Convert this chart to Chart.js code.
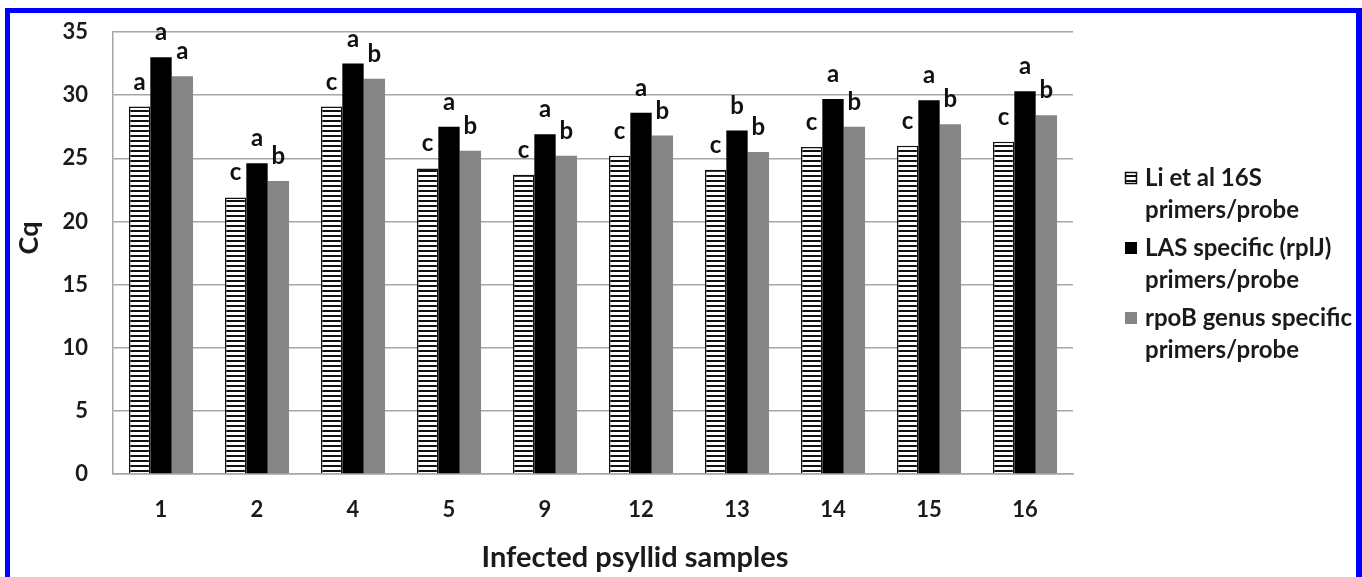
<!DOCTYPE html>
<html><head><meta charset="utf-8">
<script src="https://cdn.jsdelivr.net/npm/chart.js@4.4.0/dist/chart.umd.min.js"></script>
<style>
html,body{margin:0;padding:0;background:#fff;overflow:hidden}
#wrap{position:relative;width:1362px;height:577px}
#frame{position:absolute;left:5px;top:8px;width:1357px;height:600px;box-sizing:border-box;border:solid #0000ff;border-width:5px 6px 0 5px;pointer-events:none}
</style></head><body>
<div id="wrap"><canvas id="graph" width="1362" height="577"></canvas><div id="frame"></div></div>
<script>
const samples = ['1', '2', '4', '5', '9', '12', '13', '14', '15', '16'];
const liValues = [29.1, 21.9, 29.1, 24.2, 23.7, 25.2, 24.1, 25.9, 26.0, 26.3];
const lasValues = [33.0, 24.6, 32.5, 27.5, 26.9, 28.6, 27.2, 29.7, 29.6, 30.3];
const rpobValues = [31.5, 23.2, 31.3, 25.6, 25.2, 26.8, 25.5, 27.5, 27.7, 28.4];
const liLetters = ['a', 'c', 'c', 'c', 'c', 'c', 'c', 'c', 'c', 'c'];
const lasLetters = ['a', 'a', 'a', 'a', 'a', 'a', 'b', 'a', 'a', 'a'];
const rpobLetters = ['a', 'b', 'b', 'b', 'b', 'b', 'b', 'b', 'b', 'b'];
const seriesNames = [['Li et al 16S', 'primers/probe'], ['LAS specific (rplJ)', 'primers/probe'], ['rpoB genus specific', 'primers/probe']];
const letters = [liLetters, lasLetters, rpobLetters];

const FONT = 'Lato, "Open Sans", sans-serif';

// horizontal stripe fill for the Li et al bars
function stripes() {
    const c = document.createElement('canvas');
    c.width = 4; c.height = 5;
    const x = c.getContext('2d');
    x.fillStyle = '#ffffff';
    x.fillRect(0, 0, 4, 5);
    x.fillStyle = '#111111';
    x.fillRect(0, 0, 4, 2);
    return x.createPattern(c, 'repeat');
}

const graph = document.getElementById('graph').getContext('2d');
const hatch = stripes();

// letters above each bar
const letterPlugin = {
    id: 'letters',
    afterDatasetsDraw(chart) {
        const ctx = chart.ctx;
        ctx.save();
        ctx.font = 'bold 24px ' + FONT;
        ctx.fillStyle = '#111';
        ctx.textAlign = 'center';
        ctx.textBaseline = 'alphabetic';
        chart.data.datasets.forEach((ds, i) => {
            chart.getDatasetMeta(i).data.forEach((bar, j) => {
                ctx.fillText(letters[i][j], bar.x, bar.y - 17);
            });
        });
        ctx.restore();
    }
};

// legend on the right + axis titles
const sidePlugin = {
    id: 'side',
    afterDraw(chart) {
        const ctx = chart.ctx;
        ctx.save();
        ctx.font = 'bold 24px ' + FONT;
        ctx.textBaseline = 'middle';
        ctx.textAlign = 'left';
        chart.data.datasets.forEach((ds, i) => {
            const y = 178 + i * 70;
            ctx.fillStyle = ds.backgroundColor;
            ctx.fillRect(1125, y - 6, 12, 12);
            if (ds.borderWidth) {
                ctx.strokeStyle = '#111';
                ctx.lineWidth = 1.5;
                ctx.strokeRect(1125.5, y - 5.5, 11, 11);
            }
            ctx.fillStyle = '#1a1a1a';
            ds.label.forEach((line, k) => {
                ctx.fillText(line, 1145, y + k * 32);
            });
        });

        ctx.font = 'bold 29px ' + FONT;
        ctx.textAlign = 'center';
        ctx.fillText('Infected psyllid samples', 635, 558);

        ctx.font = 'bold 27px ' + FONT;
        ctx.translate(29, 238);
        ctx.rotate(-Math.PI / 2);
        ctx.fillText('Cq', 0, 0);
        ctx.restore();
    }
};

const barChart = new Chart(graph, {
    type: 'bar',
    data: {
        labels: samples,
        datasets: [{
            label: seriesNames[0],
            data: liValues,
            backgroundColor: hatch,
            borderColor: '#111',
            borderWidth: 1.5,
        }, {
            label: seriesNames[1],
            data: lasValues,
            backgroundColor: '#000000',
            borderWidth: 0,
        }, {
            label: seriesNames[2],
            data: rpobValues,
            backgroundColor: '#858585',
            borderWidth: 0,
        }],
    },
    options: {
        responsive: false,
        animation: false,
        events: [],
        categoryPercentage: 0.667,
        barPercentage: 1.0,
        layout: {
            autoPadding: false,
            padding: { left: 0, top: 32, right: 289, bottom: 0 }
        },
        plugins: {
            legend: { display: false },
            tooltip: { enabled: false },
        },
        scales: {
            x: {
                grid: { display: false, drawTicks: false },
                border: { display: true, color: '#a6a6a6', width: 1.5 },
                ticks: { color: '#1a1a1a', padding: 23, font: { family: FONT, size: 22, weight: 'bold' } },
                afterFit(scale) { scale.height = 577 - 474; }
            },
            y: {
                min: 0,
                max: 35,
                ticks: { stepSize: 5, color: '#1a1a1a', padding: 25, font: { family: FONT, size: 22, weight: 'bold' } },
                grid: { color: '#a6a6a6', lineWidth: 1.5, drawTicks: false },
                border: { display: true, color: '#a6a6a6', width: 1.5 },
                afterFit(scale) {
                    scale.width = 113;
                    // keep the tick label overflow from pushing the plot down
                    scale.paddingTop = 0;
                    scale.paddingBottom = 0;
                }
            }
        }
    },
    plugins: [letterPlugin, sidePlugin]
});
</script>
</body></html>
